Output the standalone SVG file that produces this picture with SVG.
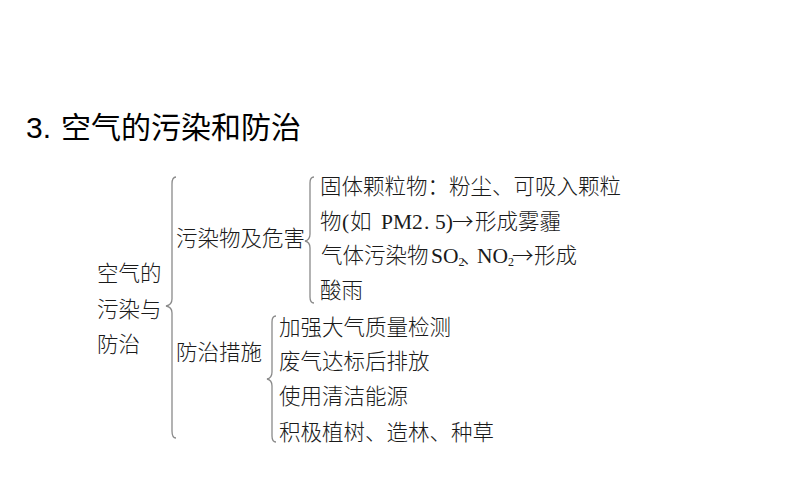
<svg xmlns="http://www.w3.org/2000/svg" width="794" height="495" viewBox="0 0 794 495">
<style>
.t{font-family:"Liberation Serif","Noto Sans CJK SC",serif;font-size:21.5px;font-weight:300;fill:#1a1a1a}
.cj{font-family:"Noto Sans CJK SC",sans-serif}
.title{font-family:"Noto Sans CJK SC","Liberation Sans",sans-serif;font-size:30px;font-weight:400;fill:#000}
.br{fill:none;stroke:#8a8a8a;stroke-width:1.3}
.sub{font-size:12px}
</style>
<rect width="794" height="495" fill="#fff"/>
<g id="title"><text class="title" y="138"><tspan x="26" font-family="Liberation Sans">3.</tspan><tspan x="61">空气的污染和防治</tspan></text></g>
<g id="connectors">
<path class="br" d="M176 177 Q172 177 172 184 L172 299 Q172 305 166 306 Q172 307 172 313 L172 431 Q172 438 176 438"/>
<path class="br" d="M314 177 Q310 177 310 183 L310 234 Q310 240 305 241 Q310 242 310 248 L310 297 Q310 303 314 303"/>
<path class="br" d="M276 316 Q272 316 272 322 L272 372 Q272 378 267 379 Q272 380 272 386 L272 436 Q272 442 276 442"/>
</g>
<g id="root"><text class="t" x="97" y="281">空气的</text><text class="t" x="97" y="317">污染与</text><text class="t" x="97" y="352">防治</text></g>
<g id="pollutants"><text class="t" x="176" y="246">污染物及危害</text></g>
<g id="measures"><text class="t" x="176" y="360">防治措施</text></g>
<g id="item-particles">
<text class="t" x="320" y="194">固体颗粒物：粉尘、可吸入颗粒</text>
<text class="t" y="229"><tspan x="320">物</tspan><tspan x="342">(</tspan><tspan x="350">如</tspan><tspan x="381">PM2</tspan><tspan x="424">.</tspan><tspan x="435">5)</tspan><tspan class="cj" x="452">→</tspan><tspan x="475">形成雾霾</tspan></text>
</g>
<g id="item-gas">
<text class="t" y="263"><tspan x="321">气体污染物</tspan><tspan x="431">SO</tspan><tspan class="sub" dy="3">2</tspan><tspan x="461" dy="-3">、</tspan><tspan x="477">NO</tspan><tspan class="sub" dy="3">2</tspan><tspan class="cj" x="512" dy="-3">→</tspan><tspan x="534">形成</tspan></text>
<text class="t" x="320" y="298">酸雨</text>
</g>
<g id="m1"><text class="t" x="279" y="335">加强大气质量检测</text></g>
<g id="m2"><text class="t" x="279" y="369">废气达标后排放</text></g>
<g id="m3"><text class="t" x="279" y="404">使用清洁能源</text></g>
<g id="m4"><text class="t" x="279" y="440">积极植树、造林、种草</text></g>
</svg>
